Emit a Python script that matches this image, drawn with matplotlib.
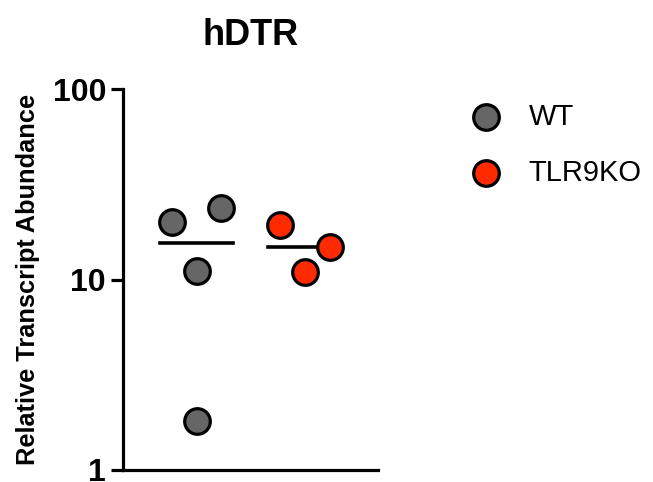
import matplotlib.pyplot as plt
import matplotlib.ticker as mticker
import numpy as np

plt.rcParams['font.family'] = ['Liberation Sans', 'DejaVu Sans']

# data
groups = ["WT", "TLR9KO"]
wt_values = [20.0, 23.7, 11.1, 1.81]
wt_offsets = [-0.23, 0.22, 0.0, 0.0]
ko_values = [19.3, 14.8, 10.9]
ko_offsets = [-0.23, 0.23, 0.0]
colors = ["#666666", "#ff2a00"]

fig = plt.figure(figsize=(6.53, 4.82), dpi=100)
ax = fig.add_axes([0.188, 0.025, 0.391, 0.79])

series = [(wt_values, wt_offsets), (ko_values, ko_offsets)]
handles = []
for i, (vals, offs) in enumerate(series):
    xs = np.array(offs) + i
    h = ax.scatter(xs, vals, s=340, facecolor=colors[i], edgecolor="black",
                   linewidth=2.3, zorder=3, label=groups[i])
    handles.append(h)
    med = np.median(vals)
    ax.plot([i - 0.34, i + 0.33], [med, med], color="black", lw=2.6, zorder=2)

ax.set_yscale("log")
ax.set_ylim(1, 100)
ax.set_xlim(-0.685, 1.676)
ax.yaxis.set_major_locator(mticker.FixedLocator([1, 10, 100]))
ax.yaxis.set_major_formatter(mticker.FixedFormatter(["1", "10", "100"]))
ax.yaxis.set_minor_locator(mticker.NullLocator())
ax.set_xticks([])

for side in ["top", "right"]:
    ax.spines[side].set_visible(False)
for side in ["left", "bottom"]:
    ax.spines[side].set_linewidth(2.3)
ax.tick_params(axis="y", width=2.3, length=9, labelsize=23, pad=3)
for lbl in ax.get_yticklabels():
    lbl.set_fontweight("bold")

ax.set_ylabel("Relative Transcript Abundance", fontsize=18.3, fontweight="bold",
              labelpad=9)
ax.set_title("hDTR", fontsize=26, fontweight="bold", pad=32)

fig.legend(handles=handles, labels=groups, loc="upper left",
           bbox_to_anchor=(0.66, 0.841), frameon=False, fontsize=21,
           handletextpad=0.45, labelspacing=0.95, markerscale=1.0)

fig.savefig("out.png", dpi=100)
